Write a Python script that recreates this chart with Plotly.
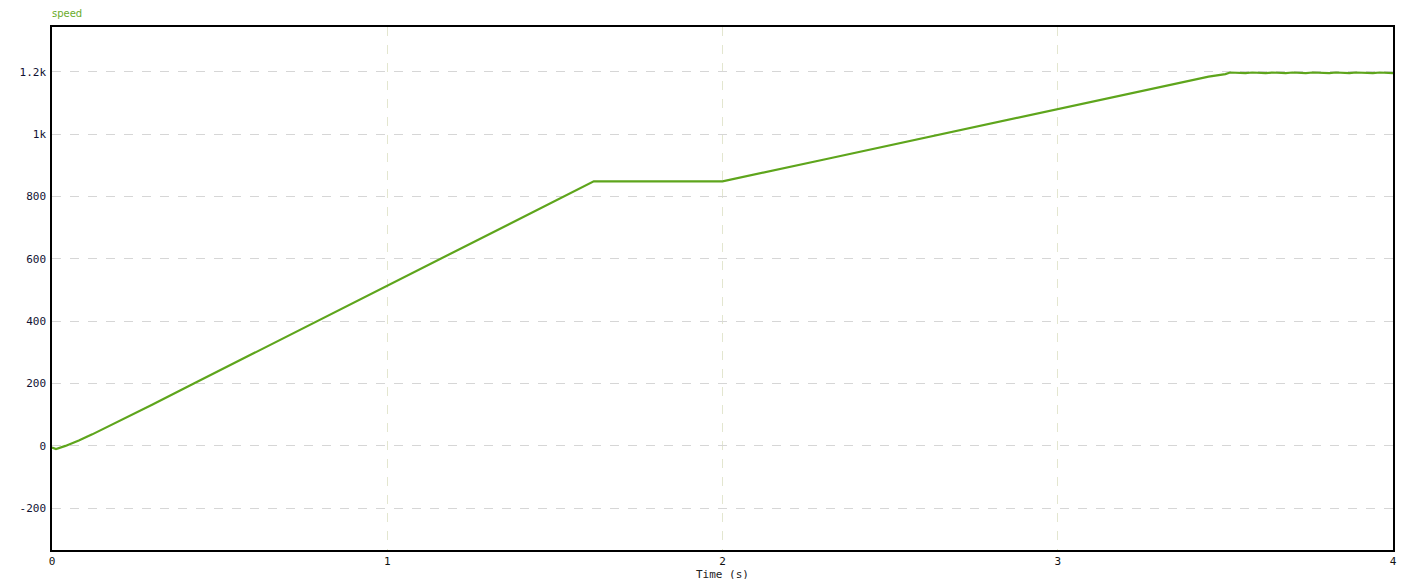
import plotly.graph_objects as go

# speed trace (time in s, speed in rpm)
time_s = [0.0, 0.012, 0.04, 0.08, 0.12, 0.16, 0.2, 0.25, 0.3, 0.423, 0.6,
          0.8, 1.0, 1.2, 1.4, 1.616, 1.8, 2.0, 2.3, 2.6, 3.0, 3.3, 3.45,
          3.5, 3.514, 3.56, 3.58, 3.62, 3.64, 3.68, 3.7, 3.74, 3.76, 3.81,
          3.83, 3.87, 3.89, 3.94, 3.96, 4.0]
speed = [-5, -10, 0, 17, 37, 58, 80, 106, 133, 200, 296,
         405, 514, 623, 731, 849, 849, 849, 918, 988, 1080, 1150, 1185,
         1193, 1198, 1196, 1198, 1196, 1198, 1196, 1198, 1196, 1198, 1196,
         1198, 1196, 1198, 1196, 1198, 1196]

x_ticks = [0, 1, 2, 3, 4]
y_ticks = [-200, 0, 200, 400, 600, 800, 1000, 1200]
y_labels = ["-200", "0", "200", "400", "600", "800", "1k", "1.2k"]

fig = go.Figure()

fig.add_trace(go.Scatter(
    x=time_s,
    y=speed,
    mode="lines",
    name="speed",
    line=dict(color="#5ea51c", width=2.2),
    hoverinfo="x+y",
))

fig.add_annotation(
    text="speed",
    xref="paper", yref="paper",
    x=0, y=1,
    xanchor="left", yanchor="bottom",
    xshift=-2, yshift=6,
    showarrow=False,
    font=dict(family="DejaVu Sans", size=10, color="#6aab2a"),
)

fig.update_layout(
    width=1401,
    height=589,
    margin=dict(l=52, r=4, t=27, b=39),
    paper_bgcolor="white",
    plot_bgcolor="white",
    showlegend=False,
    font=dict(family="DejaVu Sans Mono", size=11, color="#111133"),
    xaxis=dict(
        range=[0, 4],
        tickvals=x_ticks,
        ticktext=[str(v) for v in x_ticks],
        showgrid=True,
        gridcolor="#e3e6cf",
        griddash="dash",
        zeroline=False,
        showline=True,
        linecolor="black",
        linewidth=1.5,
        mirror=True,
        ticks="",
        title=dict(text="Time (s)", standoff=2,
                   font=dict(family="DejaVu Sans Mono", size=11, color="#222222")),
        tickfont=dict(color="#111111"),
    ),
    yaxis=dict(
        range=[-334, 1344],
        tickvals=y_ticks,
        ticktext=y_labels,
        ticklabelstandoff=2,
        showgrid=True,
        gridcolor="#d6d6d6",
        griddash="dash",
        zeroline=False,
        showline=True,
        linecolor="black",
        linewidth=1.5,
        mirror=True,
        ticks="",
    ),
)

# drop the default page margin so the figure sits at the window's corner
fig.write_html("out.html",
               config={"displayModeBar": False},
               post_script="document.body.style.margin='0';"
                           "document.body.style.overflow='hidden';")
